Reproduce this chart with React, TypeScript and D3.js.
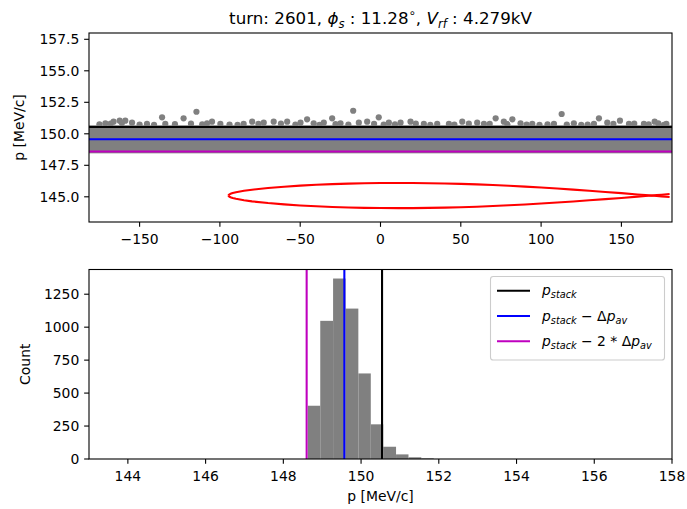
import React from "react";
import * as d3 from "d3";

// ---------- data ----------
const turn = 2601;
const phiS = "11.28";
const vRf = "4.279";

const pStack = 150.54;
const dpAv = 0.97;

// dense particle band (p range, MeV/c) covering phase -180..180 deg
const bandPhaseRange = [-180, 180];
const bandP = [148.45, 150.68];

// outlying particles above the dense band: phase [deg], p [MeV/c]
const outPhase = [-171.3, -166.2, -162.4, -158.9, -154.7, -145.4, -136.0, -134.0, -122.6, -114.6, -108.0, -104.9, -99.7, -85.2, -79.9, -72.7, -66.5, -58.1, -49.8, -45.7, -41.6, -35.3, -30.1, -24.9, -17.0, -13.5, -8.3, -1.1, 5.2, 12.5, 18.7, 27.0, 35.3, 42.6, 50.9, 60.2, 64.4, 71.7, 76.8, 82.1, 87.2, 94.5, 108.0, 112.8, 120.4, 132.9, 136.0, 141.2, 149.1, 154.7, 164.0, 170.7, 176.5];
const outP = [150.83, 150.96, 151.04, 151.04, 150.88, 150.78, 151.31, 150.78, 151.23, 151.75, 150.83, 150.96, 150.78, 150.78, 150.96, 150.88, 150.96, 150.96, 150.88, 151.15, 150.83, 150.88, 151.23, 150.83, 151.83, 150.88, 150.96, 151.31, 150.88, 150.88, 150.96, 150.78, 150.78, 150.78, 150.96, 150.88, 150.78, 151.23, 150.96, 151.15, 150.83, 150.78, 150.78, 151.57, 150.83, 150.78, 151.23, 150.88, 151.04, 150.78, 150.78, 150.96, 150.71];

// particles just above the band edge
const edgePhase = [-175, -168, -161, -150, -141, -128, -118, -111, -94, -89, -76, -62, -53, -38, -28, -20, -4, 2, 9, 22, 31, 46, 55, 68, 79, 91, 99, 104, 116, 125, 129, 145, 158, 167, 173, 178];
const edgeP = [150.75, 150.8, 150.85, 150.74, 150.72, 150.76, 150.8, 150.75, 150.74, 150.72, 150.78, 150.8, 150.74, 150.72, 150.76, 150.74, 150.78, 150.73, 150.75, 150.8, 150.72, 150.74, 150.8, 150.78, 150.76, 150.74, 150.72, 150.75, 150.73, 150.72, 150.74, 150.78, 150.8, 150.75, 150.82, 150.78];

// separatrix (half-height in MeV/c vs phase in deg), centre momentum
const sepCenter = 145.1;
const sepPhase = [-94.67, -94.5, -94, -93, -92, -90, -85, -80, -70, -60, -50, -40, -30, -20, -10, 0, 11.28, 20, 30, 40, 50, 60, 70, 80, 90, 100, 110, 120, 130, 140, 150, 160, 165, 167, 168.72, 172, 175, 180];
const sepHalf = [0, 0.05, 0.099, 0.156, 0.198, 0.262, 0.376, 0.463, 0.597, 0.701, 0.785, 0.852, 0.906, 0.947, 0.976, 0.993, 1.0, 0.996, 0.982, 0.958, 0.925, 0.883, 0.832, 0.773, 0.707, 0.634, 0.555, 0.47, 0.38, 0.286, 0.189, 0.089, 0.038, 0.018, 0, 0.034, 0.065, 0.116];

// histogram
const binEdges = [148.63, 148.95, 149.28, 149.6, 149.93, 150.25, 150.57, 150.9, 151.22, 151.55, 151.87];
const binCounts = [404, 1048, 1369, 1141, 649, 263, 93, 35, 13, 5];

const topXTicks = [-150, -100, -50, 0, 50, 100, 150];
const topYTicks = [145, 147.5, 150, 152.5, 155, 157.5];
const histXTicks = [144, 146, 148, 150, 152, 154, 156, 158];
const histYTicks = [0, 250, 500, 750, 1000, 1250];

// ---------- layout ----------
const W = 687, H = 509;
const FONT = "DejaVu Sans";
const FS = 13.9;
const GRAY = "#808080";
const MAG = "#bf00bf";
const LW = 2.08;
const TICK = 4.86;

const topL = 89, topR = 672, topT = 33, topB = 222;
const hL = 89, hR = 672, hT = 269.5, hB = 459;

const minus = (s: string) => s.replace("-", "\u2212");

export default function App() {
  const xs = d3.scaleLinear().domain([-181.5, 181.5]).range([topL, topR]);
  const ys = d3.scaleLinear().domain([143, 158]).range([topB, topT]);
  const hx = d3.scaleLinear().domain([143, 158]).range([hL, hR]);
  const maxC = d3.max(binCounts) as number;
  const hy = d3.scaleLinear().domain([0, maxC * 1.05]).range([hB, hT]);

  const upper = d3.line<number>().x((_, i) => xs(sepPhase[i])).y((d) => ys(sepCenter + d));
  const lower = d3.line<number>().x((_, i) => xs(sepPhase[i])).y((d) => ys(sepCenter - d));

  const hLines = [
    { v: pStack, c: "#000000" },
    { v: pStack - dpAv, c: "#0000ff" },
    { v: pStack - 2 * dpAv, c: MAG },
  ];

  const sub = (t: string, key: string) => (
    <tspan key={key} fontStyle="italic" fontSize={FS * 0.7} dy={3}>{t}</tspan>
  );

  const legendRows: { c: string; label: React.ReactNode[] }[] = [
    { c: "#000000", label: [<tspan key="p" fontStyle="italic">p</tspan>, sub("stack", "s")] },
    {
      c: "#0000ff",
      label: [
        <tspan key="p" fontStyle="italic">p</tspan>, sub("stack", "s"),
        <tspan key="m" dy={-3}>{" \u2212 \u0394"}</tspan>,
        <tspan key="p2" fontStyle="italic">p</tspan>, sub("av", "a"),
      ],
    },
    {
      c: MAG,
      label: [
        <tspan key="p" fontStyle="italic">p</tspan>, sub("stack", "s"),
        <tspan key="m" dy={-3}>{" \u2212 2 * \u0394"}</tspan>,
        <tspan key="p2" fontStyle="italic">p</tspan>, sub("av", "a"),
      ],
    },
  ];
  const legRowY = [290.7, 316, 341.3];

  return (
    <svg width={W} height={H} style={{ position: "absolute", left: 0, top: 0 }} fontFamily={FONT} fontSize={FS}>
      <rect x={0} y={0} width={W} height={H} fill="#ffffff" />
      <defs>
        <clipPath id="clipTop">
          <rect x={topL} y={topT} width={topR - topL} height={topB - topT} />
        </clipPath>
      </defs>

      {/* title */}
      <text x={(topL + topR) / 2} y={24} textAnchor="middle" fontSize={16.7} fill="#000">
        <tspan>{`turn: ${turn}, `}</tspan>
        <tspan fontStyle="italic">{"\u03D5"}</tspan>
        <tspan fontStyle="italic" fontSize={11.7} dy={3.5}>s</tspan>
        <tspan dy={-3.5}>{" :  "}</tspan>
        <tspan>{phiS}</tspan>
        <tspan fontSize={11.7} dy={-7}>{"\u2218"}</tspan>
        <tspan dy={7}>{", "}</tspan>
        <tspan fontStyle="italic">V</tspan>
        <tspan fontStyle="italic" fontSize={11.7} dy={3.5}>rf</tspan>
        <tspan dy={-3.5}>{" :  "}</tspan>
        <tspan>{`${vRf}kV`}</tspan>
      </text>

      {/* ---------- top panel ---------- */}
      <g clipPath="url(#clipTop)">
        <rect
          x={xs(bandPhaseRange[0]) - 3}
          width={xs(bandPhaseRange[1]) - xs(bandPhaseRange[0]) + 6}
          y={ys(bandP[1])}
          height={ys(bandP[0]) - ys(bandP[1])}
          fill={GRAY}
        />
        {edgePhase.map((ph, i) => (
          <circle key={"e" + i} cx={xs(ph)} cy={ys(edgeP[i])} r={3.1} fill={GRAY} />
        ))}
        {outPhase.map((ph, i) => (
          <circle key={i} cx={xs(ph)} cy={ys(outP[i])} r={3.1} fill={GRAY} />
        ))}
        {hLines.map((l, i) => (
          <line key={i} x1={topL} x2={topR} y1={ys(l.v)} y2={ys(l.v)} stroke={l.c} strokeWidth={LW} />
        ))}
        <path d={upper(sepHalf) || ""} fill="none" stroke="#ff0000" strokeWidth={LW} />
        <path d={lower(sepHalf) || ""} fill="none" stroke="#ff0000" strokeWidth={LW} />
      </g>
      <rect x={topL} y={topT} width={topR - topL} height={topB - topT} fill="none" stroke="#000" strokeWidth={1.1} />
      {topXTicks.map((t) => (
        <g key={t}>
          <line x1={xs(t)} x2={xs(t)} y1={topB} y2={topB + TICK} stroke="#000" strokeWidth={1.1} />
          <text x={xs(t)} y={topB + 22.3} textAnchor="middle" fill="#000">{minus(String(t))}</text>
        </g>
      ))}
      {topYTicks.map((t) => (
        <g key={t}>
          <line x1={topL - TICK} x2={topL} y1={ys(t)} y2={ys(t)} stroke="#000" strokeWidth={1.1} />
          <text x={topL - 9.7} y={ys(t) + 5} textAnchor="end" fill="#000">{t.toFixed(1)}</text>
        </g>
      ))}
      <text transform={`translate(23.5,${(topT + topB) / 2}) rotate(-90)`} textAnchor="middle" fill="#000">p [MeV/c]</text>

      {/* ---------- histogram ---------- */}
      {binCounts.map((c, i) => (
        <rect
          key={i}
          x={hx(binEdges[i])}
          width={hx(binEdges[i + 1]) - hx(binEdges[i])}
          y={hy(c)}
          height={hB - hy(c)}
          fill={GRAY}
        />
      ))}
      {hLines.map((l, i) => (
        <line key={i} x1={hx(l.v)} x2={hx(l.v)} y1={hT} y2={hB} stroke={l.c} strokeWidth={LW} />
      ))}
      <rect x={hL} y={hT} width={hR - hL} height={hB - hT} fill="none" stroke="#000" strokeWidth={1.1} />
      {histXTicks.map((t) => (
        <g key={t}>
          <line x1={hx(t)} x2={hx(t)} y1={hB} y2={hB + TICK} stroke="#000" strokeWidth={1.1} />
          <text x={hx(t)} y={hB + 22.3} textAnchor="middle" fill="#000">{t}</text>
        </g>
      ))}
      {histYTicks.map((t) => (
        <g key={t}>
          <line x1={hL - TICK} x2={hL} y1={hy(t)} y2={hy(t)} stroke="#000" strokeWidth={1.1} />
          <text x={hL - 9.7} y={hy(t) + 5} textAnchor="end" fill="#000">{t}</text>
        </g>
      ))}
      <text transform={`translate(30,${(hT + hB) / 2}) rotate(-90)`} textAnchor="middle" fill="#000">Count</text>
      <text x={(hL + hR) / 2} y={501} textAnchor="middle" fill="#000">p [MeV/c]</text>

      {/* legend */}
      <rect x={490.5} y={276.5} width={174} height={83.5} rx={2.8} fill="#ffffff" fillOpacity={0.8} stroke="#cccccc" strokeWidth={1.1} />
      {legendRows.map((r, i) => (
        <g key={i}>
          <line x1={497} x2={530} y1={legRowY[i]} y2={legRowY[i]} stroke={r.c} strokeWidth={LW} />
          <text x={542} y={legRowY[i] + 4.5} fill="#000">{r.label}</text>
        </g>
      ))}
    </svg>
  );
}
